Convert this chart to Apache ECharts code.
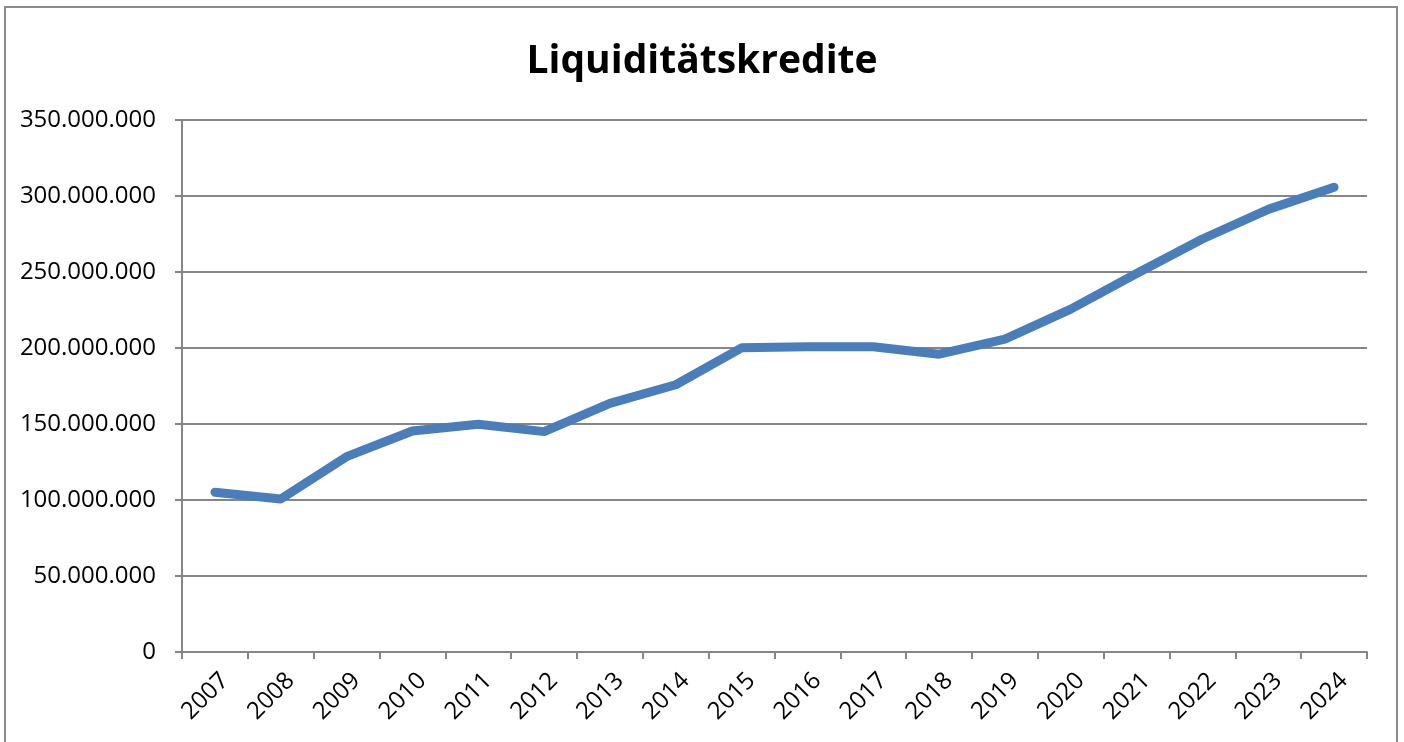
<!DOCTYPE html>
<html>
<head>
<meta charset="utf-8">
<script src="https://cdn.jsdelivr.net/npm/echarts@6/dist/echarts.min.js"></script>
<style>
html,body{margin:0;padding:0;background:#fff;}
#chart{width:1404px;height:742px;}
</style>
</head>
<body>
<div id="chart"></div>
<script>
const titleText = 'Liquiditätskredite';
const years = ['2007','2008','2009','2010','2011','2012','2013','2014','2015','2016','2017','2018','2019','2020','2021','2022','2023','2024'];
const values = [105100000,100700000,128500000,145400000,149800000,145000000,163600000,175800000,200100000,200800000,200800000,195900000,205800000,225600000,249000000,271700000,291200000,305700000];
const yMin = 0, yMax = 350000000, yStep = 50000000;

function fmt(v){ return String(Math.round(v)).replace(/\B(?=(\d{3})+(?!\d))/g,'.'); }

const chart = echarts.init(document.getElementById('chart'));
chart.setOption({
  animation:false,
  backgroundColor:'#fff',
  graphic:[{type:'rect',shape:{x:5,y:7,width:1392,height:800},style:{fill:'none',stroke:'#8c8c8c',lineWidth:2},silent:true,z:-1}],
  title:{text:titleText,left:'center',top:37,textStyle:{fontFamily:'Open Sans',fontWeight:'bold',fontSize:39,color:'#000'}},
  grid:{left:182,right:37,top:120,bottom:90,containLabel:false},
  xAxis:{type:'category',data:years,boundaryGap:true,
    axisLine:{lineStyle:{color:'#868686',width:2}},
    axisTick:{show:true,alignWithLabel:false,length:7,lineStyle:{color:'#868686',width:2}},
    axisLabel:{rotate:45,fontFamily:'Open Sans',fontSize:24,color:'#000',margin:15,interval:0,
      align:'right',verticalAlign:'top',lineHeight:28}},
  yAxis:{type:'value',min:yMin,max:yMax,interval:yStep,
    axisLine:{show:true,lineStyle:{color:'#868686',width:2}},
    axisTick:{show:true,length:7,lineStyle:{color:'#868686',width:2}},
    splitLine:{lineStyle:{color:'#868686',width:2}},
    axisLabel:{formatter:fmt,fontFamily:'Open Sans',fontSize:24,color:'#000',margin:26}},
  series:[{type:'line',data:values,symbol:'none',
    lineStyle:{color:'#4a7ebb',width:9,cap:'round',join:'round'}}]
});
</script>
</body>
</html>
